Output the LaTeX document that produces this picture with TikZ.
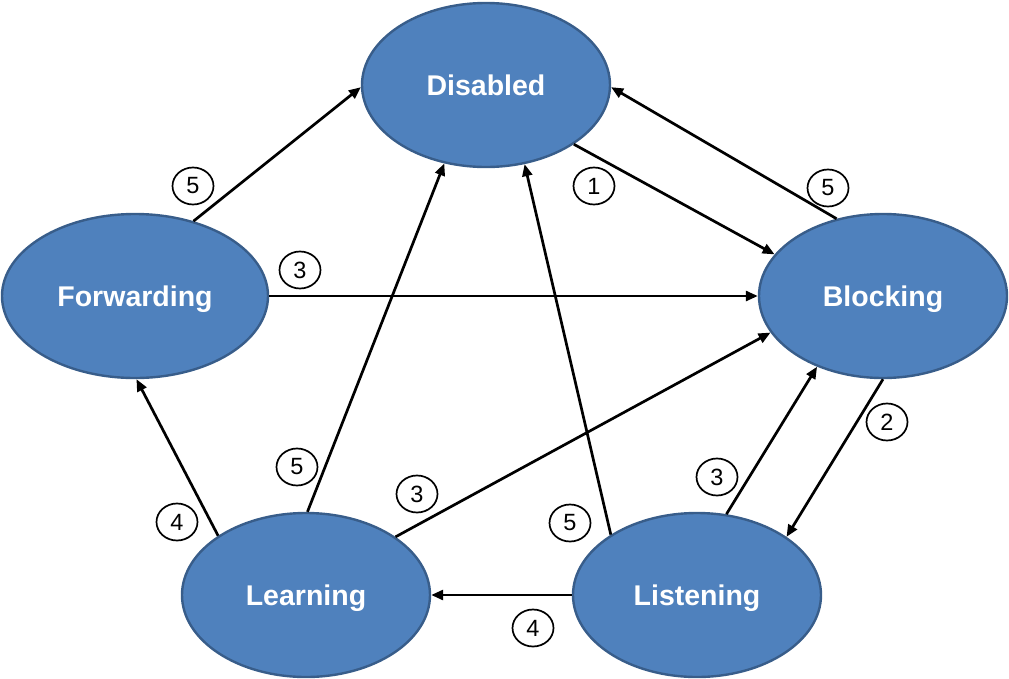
\documentclass[tikz,border=0pt]{standalone}
\usepackage{fontspec}
\setmainfont{Liberation Sans}
\usetikzlibrary{shapes.geometric,arrows.meta}
\definecolor{stfill}{HTML}{4F81BD}
\definecolor{stborder}{HTML}{385D8A}
\tikzset{
  state/.style={ellipse, fill=stfill, draw=stborder, line width=2.4pt, inner sep=0pt,
    minimum width=248pt, minimum height=164pt, text=white, text depth=0pt,
    font=\fontsize{28.5}{34}\selectfont\bfseries},
  num/.style={ellipse, draw=black, fill=white, line width=1.7pt, inner sep=0pt,
    minimum width=41pt, minimum height=37pt, font=\fontsize{23.5}{28}\selectfont},
  tr/.style={draw=black, line width=2.7pt, -{Triangle[length=12pt,width=10pt]}}
}
\begin{document}
\begin{tikzpicture}[x=1pt,y=-1pt]
\useasboundingbox (0,0) rectangle (1009,678);
\node[state] (dis) at (486,85) {Disabled};
\node[state, minimum width=266pt] (fwd) at (135,296) {Forwarding};
\node[state] (blk) at (883,296) {Blocking};
\node[state] (lrn) at (306,595) {Learning};
\node[state] (lst) at (697,595) {Listening};

\draw[tr] (fwd.52) -- (dis.181);
\draw[tr] (fwd.east) -- (blk.west);
\draw[tr] (dis.326.5) -- (blk.159.7);
\draw[tr] (blk.121.5) -- (dis.359.5);
\draw[tr] (blk.270) -- (lst.33.7);
\draw[tr] (lst.70.2) -- (blk.227.9);
\draw[tr] (lrn.89.3) -- (dis.242.6);
\draw[tr] (lrn.33.5) -- (blk.198.6);
\draw[tr] (lrn.146.2) -- (fwd.271.4);
\draw[tr] (lst.145.4) -- (dis.296);
\draw[tr] (lst.west) -- (lrn.east);

\node[num] (n1) at (193,186) {5};
\node[num] (n2) at (300,270) {3};
\node[num] (n3) at (594,186) {1};
\node[num] (n4) at (828,188) {5};
\node[num] (n5) at (887,422) {2};
\node[num] (n6) at (717,477) {3};
\node[num] (n7) at (297,467) {5};
\node[num] (n8) at (417,494) {3};
\node[num] (n9) at (177,522) {4};
\node[num] (n10) at (570,523) {5};
\node[num] (n11) at (533,628) {4};
\end{tikzpicture}
\end{document}
